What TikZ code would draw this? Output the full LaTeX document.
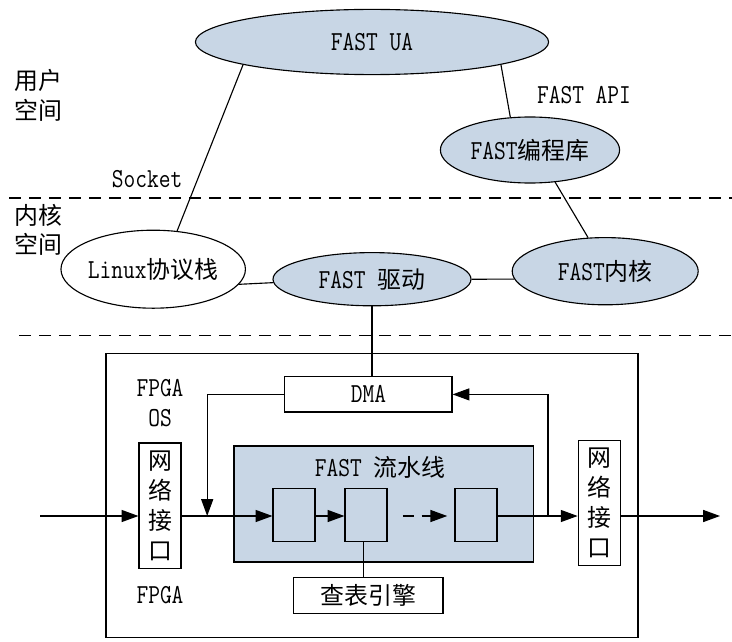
\documentclass[tikz,border=0pt]{standalone}
\usepackage{fontspec}
\setmainfont[FakeStretch=0.83,Scale=1.15]{Latin Modern Mono}
\newfontfamily\cjk{Noto Sans CJK SC}
\usetikzlibrary{shapes.geometric,arrows.meta}
\usepackage{xcolor}
\definecolor{fastblue}{RGB}{200,214,229}

\begin{document}
\begin{tikzpicture}[
    font=\fontsize{17pt}{21pt}\selectfont,
    line width=0.8pt,
    module/.style={ellipse, draw, fill=fastblue, inner sep=0pt},
    block/.style={rectangle, draw, inner sep=0pt},
    stage/.style={block, fill=fastblue, minimum width=1.05cm, minimum height=1.33cm},
    port/.style={block, fill=white, minimum width=1.05cm, minimum height=3.13cm,
                 align=center, font=\fontsize{17pt}{21.3pt}\selectfont\cjk},
    layer/.style={dash pattern=on 0.3cm off 0.2cm},
    flow/.style={-{Triangle[length=0.42cm,width=0.3cm]}}]

  \useasboundingbox (0,0) rectangle (18.3,-16.05);

  % User space
  \node[module, minimum width=8.83cm, minimum height=1.63cm] (UA) at (9.3,-1.05) {FAST UA};
  \node[module, minimum width=4.48cm, minimum height=1.65cm] (Lib) at (13.25,-3.75) {FAST{\cjk 编程库}};
  \node[align=center, font=\fontsize{17pt}{21pt}\selectfont\cjk] (User) at (0.95,-2.38) {用户\\空间};
  \node (API) at (14.6,-2.38) {FAST API};
  \node (Sock) at (3.68,-4.48) {Socket};

  % Kernel space
  \draw[layer] (0.23,-4.95) -- (18.3,-4.95);
  \node[align=center, font=\fontsize{17pt}{21pt}\selectfont\cjk] (Kern) at (0.95,-5.75) {内核\\空间};
  \node[module, fill=white, minimum width=4.18cm, minimum height=1.95cm] (Linux) at (3.83,-6.73) {Linux{\cjk 协议栈}};
  \node[module, minimum width=4.95cm, minimum height=1.33cm] (Drv) at (9.3,-6.98) {FAST {\cjk 驱动}};
  \node[module, minimum width=4.65cm, minimum height=1.68cm] (Core) at (15.13,-6.78) {FAST{\cjk 内核}};
  \draw[layer] (0.48,-8.38) -- (18.3,-8.38);

  % FPGA
  \node[block, minimum width=13.3cm, minimum height=7.1cm] (FPGA) at (9.3,-12.38) {};
  \node[align=center] (OS) at (4.0,-10.08) {FPGA\\OS};
  \node (HW) at (4.0,-14.88) {FPGA};
  \node[block, minimum width=4.18cm, minimum height=0.88cm] (DMA) at (9.21,-9.86) {DMA};
  \node[block, fill=fastblue, minimum width=7.48cm, minimum height=2.9cm] (Pipe) at (9.59,-12.6) {};
  \node (PipeT) at (9.5,-11.68) {FAST {\cjk 流水线}};
  \node[stage] (S1) at (7.35,-12.88) {};
  \node[stage] (S2) at (9.15,-12.88) {};
  \node[stage] (S3) at (11.9,-12.88) {};
  \node[block, minimum width=3.73cm, minimum height=0.9cm, font=\fontsize{17pt}{21pt}\selectfont\cjk] (LUT) at (9.21,-14.88) {查表引擎};
  \node[port] (NicIn) at (4.0,-12.64) {网\\络\\接\\口};
  \node[port] (NicOut) at (14.98,-12.58) {网\\络\\接\\口};
  \coordinate (In) at (1.0,-12.9);
  \coordinate (Out) at (18.0,-12.9);
  \coordinate (FbL) at (5.18,-12.9);
  \coordinate (FbR) at (13.7,-12.9);

  % Connections
  \draw (UA.190) -- (Linux.58);
  \draw (UA.350) -- (Lib.121);
  \draw (Lib.308) -- (Core.117);
  \draw (Linux.350) -- (Drv.182);
  \draw (Drv.east) -- (Core.185);
  \draw (Drv.south) -- (Drv.south |- DMA.north);

  % Data path
  \draw[flow] (In) -- (In -| NicIn.west);
  \draw[flow] (NicIn.east |- In) -- (S1.west |- In);
  \draw[flow] (S1.east |- In) -- (S2.west |- In);
  \draw[flow, dash pattern=on 0.27cm off 0.2cm, shorten <=0.38cm, shorten >=0.18cm] (S2.east |- In) -- (S3.west |- In);
  \draw[flow] (S3.east |- In) -- (NicOut.west |- In);
  \draw[flow] (NicOut.east |- In) -- (Out);
  \draw[flow] (DMA.west) -| (FbL);
  \draw[flow] (FbR) |- (DMA.east);
  \draw (S2.south -| LUT.north) ++(-0.13,0) coordinate (Tap) -- (Tap |- LUT.north);

\end{tikzpicture}
\end{document}
